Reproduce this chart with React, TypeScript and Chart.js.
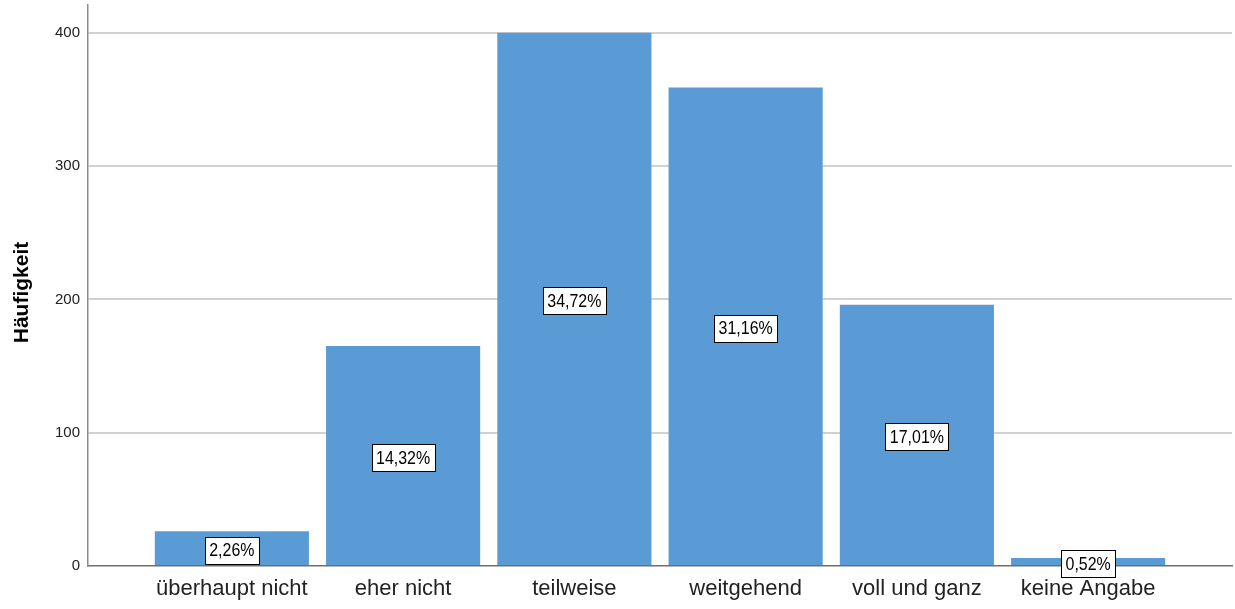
import React, { useEffect, useRef } from "react";
import { Chart, registerables } from "chart.js";

Chart.register(...registerables);

const categories = ["überhaupt nicht", "eher nicht", "teilweise", "weitgehend", "voll und ganz", "keine Angabe"];
const frequencies = [26, 165, 400, 359, 196, 6];
const percentLabels = ["2,26%", "14,32%", "34,72%", "31,16%", "17,01%", "0,52%"];
const yTicks = [0, 100, 200, 300, 400];
const yTitle = "Häufigkeit";
const yMax = 420.8;
const xMin = -0.84;
const xMax = 5.84;

const FONT = "'Liberation Sans', Arial, sans-serif";

const boxLabelPlugin = {
  id: "boxLabels",
  afterDatasetsDraw(chart: any) {
    const ctx = chart.ctx;
    const meta = chart.getDatasetMeta(0);
    meta.data.forEach((bar: any, i: number) => {
      const { x, y, base } = bar.getProps(["x", "y", "base"], true);
      const cy = (y + base) / 2 + 2;
      const text = percentLabels[i];
      const sx = 0.84;
      ctx.save();
      ctx.font = `19px ${FONT}`;
      const w = Math.round(ctx.measureText(text).width * sx + 9);
      const h = 27;
      const left = Math.round(x - w / 2) + 0.5;
      const top = Math.round(cy - h / 2) + 0.5;
      ctx.fillStyle = "#ffffff";
      ctx.fillRect(left, top, w, h);
      ctx.strokeStyle = "#000000";
      ctx.lineWidth = 1;
      ctx.strokeRect(left, top, w, h);
      ctx.translate(x, cy + 1);
      ctx.scale(sx, 1);
      ctx.fillStyle = "#000000";
      ctx.textAlign = "center";
      ctx.textBaseline = "middle";
      ctx.fillText(text, 0, 0);
      ctx.restore();
    });
  },
};

const yTitlePlugin = {
  id: "yTitle",
  afterDraw(chart: any) {
    const ctx = chart.ctx;
    const area = chart.chartArea;
    ctx.save();
    ctx.translate(22, (area.top + area.bottom) / 2 + 7);
    ctx.rotate(-Math.PI / 2);
    ctx.font = `bold 21px ${FONT}`;
    ctx.fillStyle = "#000000";
    ctx.textAlign = "center";
    ctx.textBaseline = "middle";
    ctx.fillText(yTitle, 0, 0);
    ctx.restore();
  },
};

export default function App() {
  const canvasRef = useRef<HTMLCanvasElement | null>(null);

  useEffect(() => {
    if (!canvasRef.current) return;
    const chart = new Chart(canvasRef.current, {
      type: "bar",
      data: {
        datasets: [
          {
            data: frequencies.map((v, i) => ({ x: i, y: v })),
            backgroundColor: "#5B9BD5",
            borderWidth: 0,
            barPercentage: 0.9,
            categoryPercentage: 1.0,
          },
        ],
      },
      options: {
        animation: false,
        responsive: true,
        maintainAspectRatio: false,
        layout: { padding: { top: 5, right: 3, left: 0, bottom: 0 } },
        plugins: {
          legend: { display: false },
          tooltip: { enabled: false },
        },
        scales: {
          x: {
            type: "linear",
            offset: false,
            min: xMin,
            max: xMax,
            grid: { display: false, drawTicks: false },
            border: { display: true, color: "#6e6e6e", width: 1.5 },
            ticks: {
              autoSkip: false,
              maxRotation: 0,
              padding: 10,
              color: "#222222",
              font: { size: 22, family: FONT },
              callback: (v: any) => categories[v as number] ?? "",
            },
            afterBuildTicks: (s: any) => {
              s.ticks = categories.map((_, i) => ({ value: i }));
            },
            afterFit: (s: any) => {
              s.height = 43;
              s.paddingLeft = 0;
              s.paddingRight = 0;
            },
          },
          y: {
            type: "linear",
            min: 0,
            max: yMax,
            grid: {
              color: (c: any) => (c.tick && c.tick.value === 0 ? "rgba(0,0,0,0)" : "#d2d2d2"),
              lineWidth: 2,
              drawTicks: false,
            },
            border: { display: true, color: "#8c8c8c", width: 1.5 },
            ticks: {
              padding: 8,
              color: "#222222",
              font: { size: 15, family: FONT },
            },
            afterBuildTicks: (s: any) => {
              s.ticks = yTicks.map((v) => ({ value: v }));
            },
            afterFit: (s: any) => {
              s.width = 88;
              s.paddingTop = 0;
              s.paddingBottom = 0;
            },
          },
        },
      },
      plugins: [boxLabelPlugin, yTitlePlugin],
    } as any);
    return () => chart.destroy();
  }, []);

  return (
    <div style={{ position: "fixed", left: 0, top: 0, width: 1235, height: 609, background: "#fff" }}>
      <canvas ref={canvasRef} />
    </div>
  );
}
